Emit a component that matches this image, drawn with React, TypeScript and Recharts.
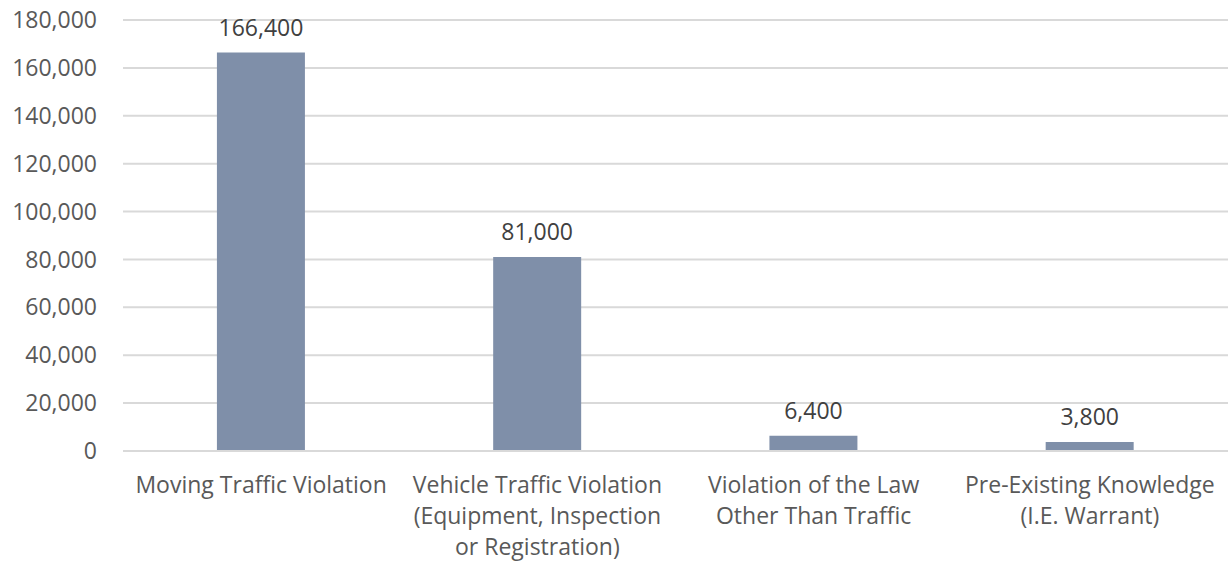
import { BarChart, Bar, XAxis, YAxis, CartesianGrid, LabelList } from 'recharts';

const categories = [
  'Moving Traffic Violation',
  'Vehicle Traffic Violation\n(Equipment, Inspection\nor Registration)',
  'Violation of the Law\nOther Than Traffic',
  'Pre-Existing Knowledge\n(I.E. Warrant)',
];
const stops = [166400, 81000, 6400, 3800];
const yTicks = [0, 20000, 40000, 60000, 80000, 100000, 120000, 140000, 160000, 180000];

const data = categories.map((name, i) => ({ name, stops: stops[i] }));

const fmt = (v: number) => v.toLocaleString('en-US');

function CategoryTick({ x, y, payload }: any) {
  const lines = String(payload.value).split('\n');
  return (
    <text x={x} y={y} textAnchor="middle" fill="#595959" fontSize={23} fontFamily="'Open Sans', sans-serif">
      {lines.map((line, i) => (
        <tspan key={i} x={x} dy={i === 0 ? 34 : 31}>
          {line}
        </tspan>
      ))}
    </text>
  );
}

export default function App() {
  return (
    <div style={{ position: 'absolute', left: 0, top: 0, width: 1228, height: 562, background: '#fff' }}>
      <BarChart
        width={1228}
        height={562}
        data={data}
        margin={{ top: 20, right: 0, left: 0, bottom: 0 }}
        barCategoryGap="34%"
      >
        <CartesianGrid stroke="#d9d9d9" strokeWidth={2} vertical={false} />
        <XAxis
          dataKey="name"
          axisLine={{ stroke: '#d9d9d9', strokeWidth: 2 }}
          tickLine={false}
          height={111}
          interval={0}
          tick={<CategoryTick />}
        />
        <YAxis
          width={123}
          axisLine={false}
          tickLine={false}
          tickMargin={20}
          domain={[0, 180000]}
          ticks={yTicks}
          tickFormatter={fmt}
          tick={{ fill: '#595959', fontSize: 23, fontFamily: "'Open Sans', sans-serif" }}
        />
        <Bar dataKey="stops" fill="#7f8fa9" isAnimationActive={false}>
          <LabelList
            dataKey="stops"
            position="top"
            offset={17}
            formatter={(v: any) => fmt(Number(v))}
            fill="#404040"
            fontSize={23}
            fontFamily="'Open Sans', sans-serif"
          />
        </Bar>
      </BarChart>
    </div>
  );
}
